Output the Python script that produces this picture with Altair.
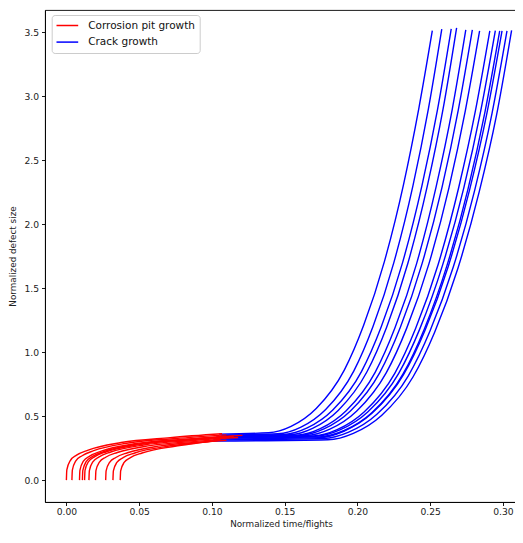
import altair as alt
import pandas as pd

# ---- data ----
RED_X = [
    [0.000, 0.0003, 0.0027, 0.007, 0.015, 0.0376, 0.0713, 0.107],
    [0.0038, 0.0041, 0.0065, 0.0108, 0.0188, 0.0414, 0.0751, 0.110],
    [0.009, 0.0093, 0.0117, 0.016, 0.024, 0.0466, 0.0803, 0.121],
    [0.011, 0.0113, 0.0137, 0.018, 0.026, 0.0486, 0.0823, 0.115],
    [0.0125, 0.0128, 0.0152, 0.0195, 0.0275, 0.0501, 0.0838, 0.112],
    [0.0155, 0.0158, 0.0182, 0.0225, 0.0305, 0.0531, 0.0868, 0.118],
    [0.020, 0.0203, 0.0227, 0.027, 0.035, 0.0576, 0.0913, 0.106],
    [0.027, 0.0273, 0.0297, 0.034, 0.042, 0.0646, 0.0983, 0.110],
    [0.032, 0.0323, 0.0347, 0.039, 0.047, 0.0696, 0.095, 0.104],
    [0.037, 0.0373, 0.0397, 0.044, 0.052, 0.0746, 0.090, 0.100],
]
RED_Y = [
    [0, 0.080, 0.153, 0.195, 0.235, 0.294, 0.332, 0.362],
    [0, 0.078, 0.150, 0.191, 0.230, 0.288, 0.325, 0.354],
    [0, 0.077, 0.148, 0.188, 0.227, 0.284, 0.320, 0.350],
    [0, 0.076, 0.146, 0.186, 0.224, 0.281, 0.317, 0.343],
    [0, 0.076, 0.145, 0.184, 0.222, 0.278, 0.314, 0.336],
    [0, 0.075, 0.143, 0.182, 0.220, 0.275, 0.310, 0.333],
    [0, 0.074, 0.141, 0.179, 0.216, 0.270, 0.305, 0.318],
    [0, 0.073, 0.139, 0.177, 0.214, 0.268, 0.302, 0.312],
    [0, 0.072, 0.138, 0.176, 0.212, 0.265, 0.297, 0.309],
    [0, 0.072, 0.138, 0.176, 0.212, 0.265, 0.290, 0.306],
]

BLUE_X = [
    [0.105, 0.1389, 0.1544, 0.1717, 0.1910, 0.2043, 0.2186, 0.2317, 0.2423, 0.2515],
    [0.106, 0.1454, 0.1609, 0.1782, 0.1975, 0.2108, 0.2251, 0.2382, 0.2488, 0.2580],
    [0.107, 0.1497, 0.1655, 0.1831, 0.2028, 0.2164, 0.2310, 0.2443, 0.2551, 0.2645],
    [0.108, 0.1534, 0.1692, 0.1868, 0.2065, 0.2201, 0.2347, 0.2480, 0.2588, 0.2682],
    [0.104, 0.1586, 0.1745, 0.1923, 0.2122, 0.2259, 0.2407, 0.2541, 0.2651, 0.2745],
    [0.110, 0.1607, 0.1770, 0.1952, 0.2154, 0.2294, 0.2444, 0.2582, 0.2693, 0.2790],
    [0.103, 0.1646, 0.1811, 0.1994, 0.2198, 0.2339, 0.2491, 0.2630, 0.2742, 0.2840],
    [0.108, 0.1694, 0.1861, 0.2048, 0.2257, 0.2400, 0.2555, 0.2696, 0.2811, 0.2910],
    [0.102, 0.1710, 0.1880, 0.2071, 0.2283, 0.2429, 0.2586, 0.2731, 0.2847, 0.2948],
    [0.106, 0.1740, 0.1910, 0.2101, 0.2313, 0.2459, 0.2616, 0.2761, 0.2877, 0.2978],
    [0.101, 0.1732, 0.1906, 0.2100, 0.2316, 0.2465, 0.2625, 0.2772, 0.2891, 0.2994],
    [0.104, 0.1766, 0.1940, 0.2134, 0.2350, 0.2499, 0.2659, 0.2806, 0.2925, 0.3028],
    [0.100, 0.1798, 0.1972, 0.2166, 0.2382, 0.2531, 0.2691, 0.2838, 0.2957, 0.3060],
]
BLUE_Y = [
    [0.360, 0.370, 0.420, 0.560, 0.860, 1.210, 1.710, 2.310, 2.910, 3.512],
    [0.352, 0.362, 0.412, 0.552, 0.852, 1.202, 1.702, 2.302, 2.902, 3.525],
    [0.348, 0.358, 0.408, 0.548, 0.848, 1.198, 1.698, 2.298, 2.898, 3.527],
    [0.345, 0.355, 0.405, 0.545, 0.845, 1.195, 1.695, 2.295, 2.895, 3.535],
    [0.342, 0.352, 0.402, 0.542, 0.842, 1.192, 1.692, 2.292, 2.892, 3.518],
    [0.340, 0.350, 0.400, 0.540, 0.840, 1.190, 1.690, 2.290, 2.890, 3.518],
    [0.338, 0.348, 0.398, 0.538, 0.838, 1.188, 1.688, 2.288, 2.888, 3.510],
    [0.335, 0.345, 0.395, 0.535, 0.835, 1.185, 1.685, 2.285, 2.885, 3.510],
    [0.332, 0.342, 0.392, 0.532, 0.832, 1.182, 1.682, 2.282, 2.882, 3.512],
    [0.328, 0.338, 0.388, 0.528, 0.828, 1.178, 1.678, 2.278, 2.878, 3.510],
    [0.322, 0.332, 0.382, 0.522, 0.822, 1.172, 1.672, 2.272, 2.872, 3.510],
    [0.315, 0.325, 0.375, 0.515, 0.815, 1.165, 1.665, 2.265, 2.865, 3.510],
    [0.306, 0.316, 0.366, 0.506, 0.806, 1.156, 1.656, 2.256, 2.856, 3.515],
]

SERIES = ["Corrosion pit growth", "Crack growth"]
COLORS = ["red", "blue"]
X_TICKS = [0.0, 0.05, 0.10, 0.15, 0.20, 0.25, 0.30]
Y_TICKS = [0.0, 0.5, 1.0, 1.5, 2.0, 2.5, 3.0, 3.5]


def build(xs, ys, label, prefix):
    rows = []
    for c, (cx, cy) in enumerate(zip(xs, ys)):
        for i, (x, y) in enumerate(zip(cx, cy)):
            rows.append({"x": x, "y": y, "curve": f"{prefix}{c}", "idx": i, "series": label})
    return pd.DataFrame(rows)


red_df = build(RED_X, RED_Y, SERIES[0], "r")
blue_df = build(BLUE_X, BLUE_Y, SERIES[1], "b")

FONT = "DejaVu Sans"

x_enc = alt.X(
    "x:Q",
    scale=alt.Scale(domain=[-0.0147, 0.3097], nice=False, zero=False),
    axis=alt.Axis(values=X_TICKS, format=".2f", title="Normalized time/flights",
                  grid=False, tickSize=3.5, labelPadding=2, titlePadding=3,
                  labelFontSize=9.2, titleFontSize=8.8),
)
y_enc = alt.Y(
    "y:Q",
    scale=alt.Scale(domain=[-0.1708, 3.674], nice=False, zero=False),
    axis=alt.Axis(values=Y_TICKS, format=".1f", title="Normalized defect size",
                  grid=False, tickSize=3.5, labelPadding=3, titlePadding=6,
                  labelFontSize=9.2, titleFontSize=8.8),
)
color_enc = alt.Color(
    "series:N",
    scale=alt.Scale(domain=SERIES, range=COLORS),
    legend=alt.Legend(
        title=None, orient="none", legendX=6.7, legendY=5,
        symbolType="M-1.14,0H3.2", symbolSize=100, symbolStrokeWidth=1.5,
        labelFontSize=10.5, labelOffset=20, rowPadding=4.6, padding=4.5,
        strokeColor="#cccccc", fillColor="white", cornerRadius=3,
        labelFont=FONT, labelColor="#111",
    ),
)

blue = alt.Chart(blue_df).mark_line(interpolate="monotone", strokeWidth=1.4, clip=True).encode(
    x=x_enc, y=y_enc, color=color_enc, detail="curve:N", order="idx:Q"
)
red = alt.Chart(red_df).mark_line(interpolate="monotone", strokeWidth=1.4, clip=True).encode(
    x=x_enc, y=y_enc, color=color_enc, detail="curve:N", order="idx:Q"
)

chart = (
    alt.layer(blue, red)
    .properties(
        width=472, height=492,
        autosize=alt.AutoSizeParams(type="none"),
        padding={"left": 37, "top": 2, "right": -2, "bottom": 28},
    )
    .configure_view(stroke="black", strokeWidth=0.9)
    .configure_axis(
        domainColor="black", domainWidth=0.9, tickColor="black", tickWidth=0.9,
        labelColor="#222", titleColor="#222", labelFont=FONT, titleFont=FONT,
        titleFontWeight="normal",
    )
)

chart.save("out.html", embed_options={"renderer": "svg", "actions": False})
